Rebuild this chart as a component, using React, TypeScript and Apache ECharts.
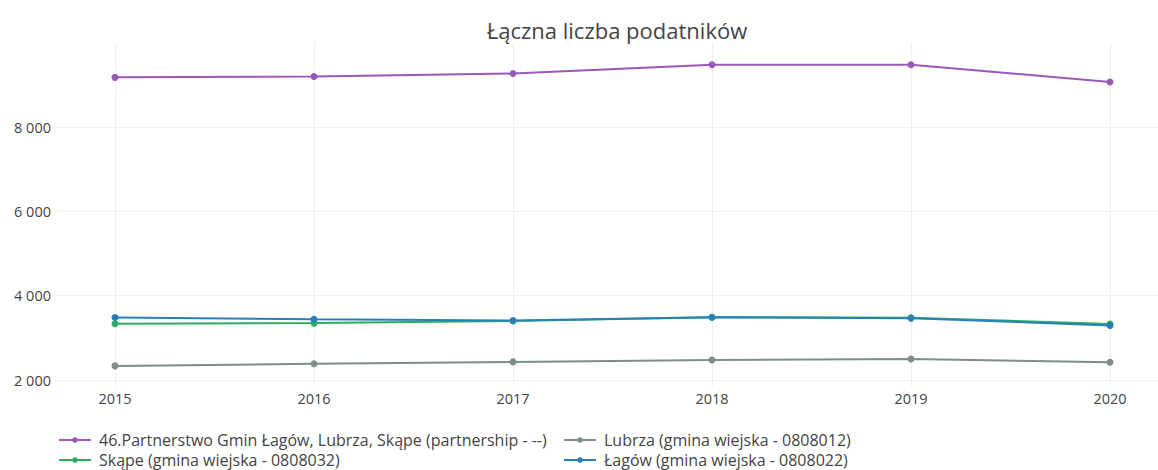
import React, { useEffect, useRef } from "react";
import * as echarts from "echarts";

const years = [2015, 2016, 2017, 2018, 2019, 2020];
const seriesNames = [
  "46.Partnerstwo Gmin Łagów, Lubrza, Skąpe (partnership - --)",
  "Lubrza (gmina wiejska - 0808012)",
  "Skąpe (gmina wiejska - 0808032)",
  "Łagów (gmina wiejska - 0808022)",
];
const partnershipValues = [9180, 9200, 9270, 9480, 9480, 9070];
const lubrzaValues = [2335, 2385, 2430, 2475, 2500, 2420];
const skapeValues = [3335, 3350, 3400, 3490, 3475, 3330];
const lagowValues = [3485, 3440, 3410, 3490, 3465, 3295];
const colors = ["#9b59b6", "#7f8c8d", "#27ae60", "#2980b9"];
const yTicks = [2000, 4000, 6000, 8000];
const FONT = "'Open Sans', 'Noto Sans', sans-serif";

const valueLists = [partnershipValues, lubrzaValues, skapeValues, lagowValues];

export default function App() {
  const ref = useRef<HTMLDivElement>(null);
  useEffect(() => {
    if (!ref.current) return;
    const chart = echarts.init(ref.current, null, { renderer: "svg" });
    const legendPos = [
      { left: 58, top: 432 },
      { left: 563, top: 432 },
      { left: 58, top: 452 },
      { left: 563, top: 452 },
    ];
    chart.setOption({
      animation: false,
      title: {
        text: "Łączna liczba podatników",
        left: 612,
        top: 14,
        textAlign: "center",
        textStyle: { fontFamily: FONT, fontSize: 22, fontWeight: "normal", color: "#444" },
      },
      legend: seriesNames.map((n, i) => ({
        data: [n],
        left: legendPos[i].left,
        top: legendPos[i].top,
        padding: 0,
        itemWidth: 32,
        itemHeight: 7,
        itemGap: 0,
        selectedMode: false,
        textStyle: {
          fontFamily: FONT,
          fontSize: 16,
          lineHeight: 14,
          color: "#444",
          padding: [0, 0, 0, 3],
        },
      })),
      grid: { left: 55, right: 0, top: 43, bottom: 470 - 386, containLabel: false },
      xAxis: {
        type: "value",
        min: 2015 - 60 / 199,
        max: 2020 + 48 / 199,
        axisLine: { show: false },
        axisTick: { show: false, customValues: years },
        axisLabel: {
          customValues: years,
          formatter: (v: number) => String(Math.round(v)),
          fontFamily: FONT,
          fontSize: 14.5,
          color: "#444",
          margin: 5,
        },
        splitLine: { show: true, lineStyle: { color: "#eeeeee", width: 1 } },
      },
      yAxis: {
        type: "value",
        min: 1858,
        max: 9995,
        axisLine: { show: false },
        axisTick: { show: false, customValues: yTicks },
        axisLabel: {
          customValues: yTicks,
          formatter: (v: number) => String(Math.round(v)).replace(/\B(?=(\d{3})+(?!\d))/g, " "),
          fontFamily: FONT,
          fontSize: 14.5,
          color: "#444",
          margin: 4,
        },
        splitLine: { show: true, lineStyle: { color: "#eeeeee", width: 1 } },
      },
      series: seriesNames.map((n, i) => ({
        name: n,
        type: "line",
        data: years.map((y, j) => [y, valueLists[i][j]]),
        symbol: "circle",
        symbolSize: 7,
        itemStyle: { color: colors[i] },
        lineStyle: { color: colors[i], width: 2 },
      })),
    });
    return () => chart.dispose();
  }, []);
  return <div ref={ref} style={{ width: 1158, height: 470, position: "absolute", left: 0, top: 0 }} />;
}
